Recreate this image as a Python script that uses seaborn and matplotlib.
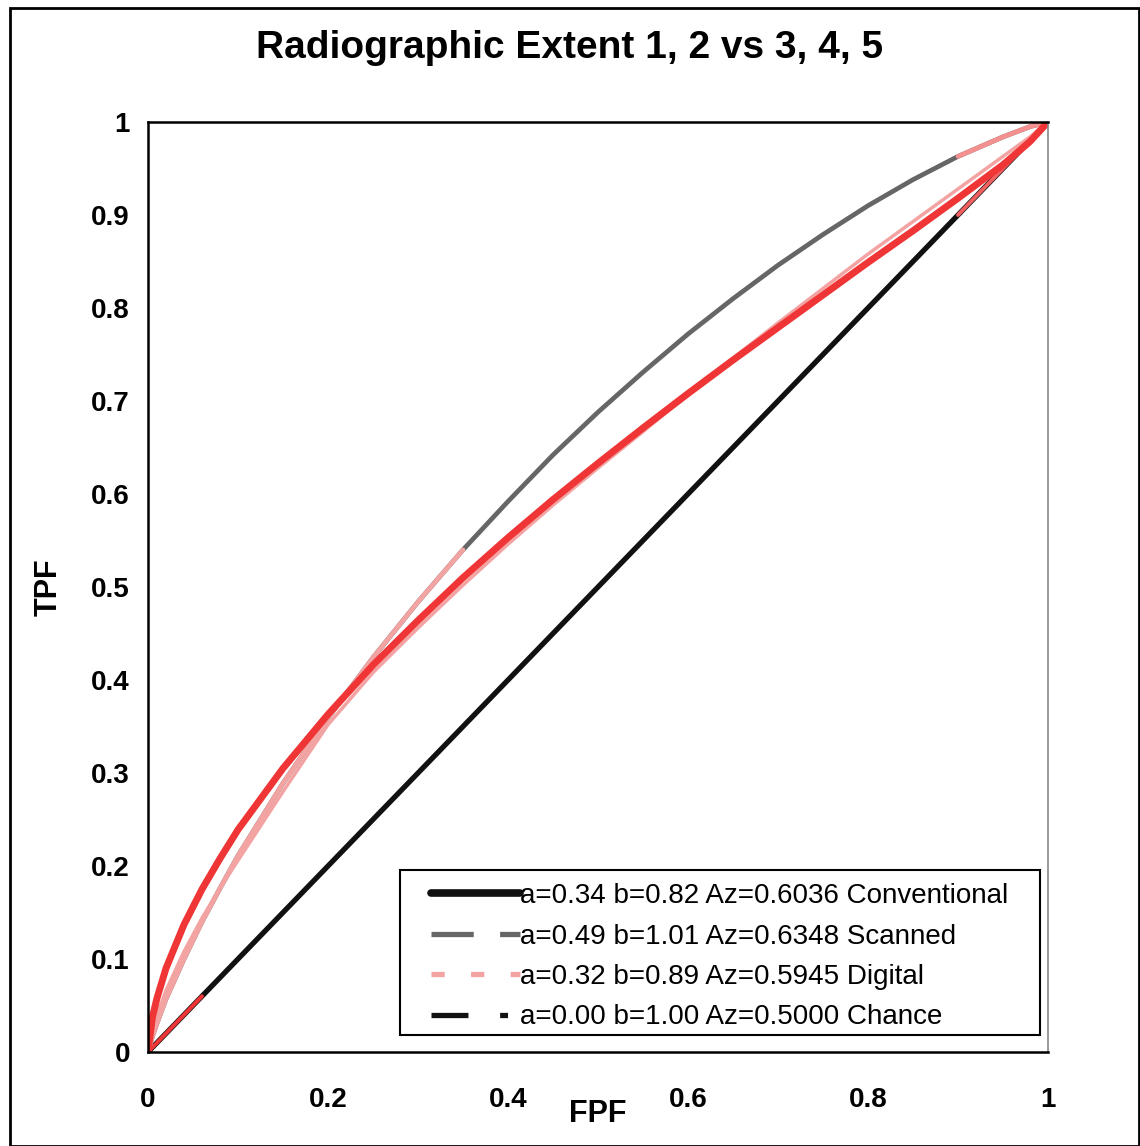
import matplotlib
matplotlib.use("Agg")
import matplotlib.pyplot as plt
from matplotlib.lines import Line2D
from matplotlib.patches import Rectangle
import seaborn as sns
import pandas as pd

# ---- data ----
fpf = [0, 0.005, 0.01, 0.02, 0.04, 0.06, 0.08, 0.1, 0.15, 0.2, 0.25, 0.3, 0.35,
       0.4, 0.45, 0.5, 0.55, 0.6, 0.65, 0.7, 0.75, 0.8, 0.85, 0.9, 0.95, 0.98, 1.0]
conventional = [0, 0.038, 0.058, 0.090, 0.137, 0.175, 0.208, 0.239, 0.305, 0.363, 0.416,
                0.464, 0.510, 0.553, 0.594, 0.633, 0.671, 0.708, 0.744, 0.779, 0.814,
                0.849, 0.883, 0.918, 0.954, 0.979, 1.0]
scanned = [0, 0.017, 0.031, 0.057, 0.100, 0.140, 0.176, 0.211, 0.289, 0.359, 0.424,
           0.484, 0.540, 0.592, 0.642, 0.688, 0.731, 0.772, 0.810, 0.846, 0.879,
           0.910, 0.938, 0.963, 0.984, 0.995, 1.0]
digital = [0, 0.024, 0.040, 0.066, 0.108, 0.144, 0.176, 0.206, 0.280, 0.352, 0.408,
           0.456, 0.502, 0.546, 0.588, 0.628, 0.667, 0.707, 0.746, 0.784, 0.821,
           0.858, 0.893, 0.928, 0.963, 0.984, 1.0]
chance = list(fpf)

labels = ["a=0.34 b=0.82 Az=0.6036 Conventional",
          "a=0.49 b=1.01 Az=0.6348 Scanned",
          "a=0.32 b=0.89 Az=0.5945 Digital",
          "a=0.00 b=1.00 Az=0.5000 Chance"]
title = "Radiographic Extent 1, 2 vs 3, 4, 5"
xticks = [0, 0.2, 0.4, 0.6, 0.8, 1]
xticklabels = ["0", "0.2", "0.4", "0.6", "0.8", "1"]
yticks = [0, 0.1, 0.2, 0.3, 0.4, 0.5, 0.6, 0.7, 0.8, 0.9, 1]
yticklabels = ["0", "0.1", "0.2", "0.3", "0.4", "0.5", "0.6", "0.7", "0.8", "0.9", "1"]

RED = "#ef3535"
GRAY = "#666666"
PINK = "#f4a3a3"
BLACK = "#111111"

sns.set_theme(style="white")
plt.rcParams["font.family"] = ["Liberation Sans", "DejaVu Sans"]
plt.rcParams["text.color"] = "black"
plt.rcParams["axes.labelcolor"] = "black"
plt.rcParams["xtick.color"] = "black"
plt.rcParams["ytick.color"] = "black"

df = pd.DataFrame({"FPF": fpf, "Conventional": conventional, "Scanned": scanned,
                   "Digital": digital, "Chance": chance})

fig = plt.figure(figsize=(11.4, 11.46), dpi=100)
ax = fig.add_axes([148 / 1140, 1 - 1052 / 1146, 900 / 1140, 930 / 1146])

# chance line
sns.lineplot(data=df, x="FPF", y="Chance", ax=ax, color=BLACK, lw=3.8, sort=False)
low = df[df.FPF <= 0.07]
sns.lineplot(data=low, x="FPF", y="Chance", ax=ax, color=RED, lw=2.8, sort=False)
high = df[df.FPF >= 0.87]
sns.lineplot(data=high, x="FPF", y="Chance", ax=ax, color="#f06060", lw=2.8, sort=False)

# scanned
sns.lineplot(data=df, x="FPF", y="Scanned", ax=ax, color=GRAY, lw=3.4, sort=False)
sl = df[df.FPF <= 0.35]
sns.lineplot(data=sl, x="FPF", y="Scanned", ax=ax, color=PINK, lw=3.4, sort=False)
sh = df[df.FPF >= 0.9]
sns.lineplot(data=sh, x="FPF", y="Scanned", ax=ax, color="#f59090", lw=3.4, sort=False)

# digital
sns.lineplot(data=df, x="FPF", y="Digital", ax=ax, color=PINK, lw=2.5, sort=False)

# conventional
sns.lineplot(data=df, x="FPF", y="Conventional", ax=ax, color=RED, lw=5, sort=False)

ax.set_xlim(0, 1)
ax.set_ylim(0, 1)
ax.set_xticks(xticks)
ax.set_xticklabels(xticklabels)
ax.set_yticks(yticks)
ax.set_yticklabels(yticklabels)
ax.tick_params(axis="both", direction="inout", length=14, width=1.8, colors="black",
               labelsize=20, pad=6)
for lab in ax.get_xticklabels() + ax.get_yticklabels():
    lab.set_fontweight("bold")
ax.tick_params(axis="x", pad=18)

for side in ["left", "bottom", "top"]:
    ax.spines[side].set_color("black")
    ax.spines[side].set_linewidth(1.8)
ax.spines["right"].set_color("#888888")
ax.spines["right"].set_linewidth(1.2)

ax.set_xlabel("FPF", fontsize=22, fontweight="bold", labelpad=-10)
ax.set_ylabel("TPF", fontsize=22, fontweight="bold", labelpad=20)

fig.text(0.5, 1 - 48 / 1146, title, ha="center", va="center", fontsize=28,
         fontweight="bold")

# legend box (wider padding than matplotlib's default frame)
box = Rectangle(((400 - 148) / 900, (1052 - 1035) / 930), 640 / 900, 165 / 930,
                transform=ax.transAxes, facecolor="white", edgecolor="black",
                lw=1.5, zorder=4.5, clip_on=False)
ax.add_patch(box)

handles = [
    Line2D([], [], color=BLACK, lw=5.5),
    Line2D([], [], color=GRAY, lw=3.8, dashes=(8, 5)),
    Line2D([], [], color=PINK, lw=3.8, dashes=(2.5, 5)),
    Line2D([], [], color=BLACK, lw=3.8, dashes=(7, 6, 1.5, 20)),
]
leg = ax.legend(handles, labels, loc="lower right",
                bbox_to_anchor=((1014 - 148) / 900, (1052 - 1036) / 930),
                fontsize=20, frameon=False, handlelength=3.2,
                handletextpad=0.0, labelspacing=0.52, borderpad=0.2,
                borderaxespad=0)
leg.set_zorder(5)

# outer border of the figure
fig.patches.append(Rectangle((10 / 1140, 0.0), 1 - 10 / 1140 - 0.001, 1 - 8 / 1146,
                             transform=fig.transFigure, fill=False,
                             edgecolor="black", lw=2))

fig.savefig("out.png", dpi=100)
